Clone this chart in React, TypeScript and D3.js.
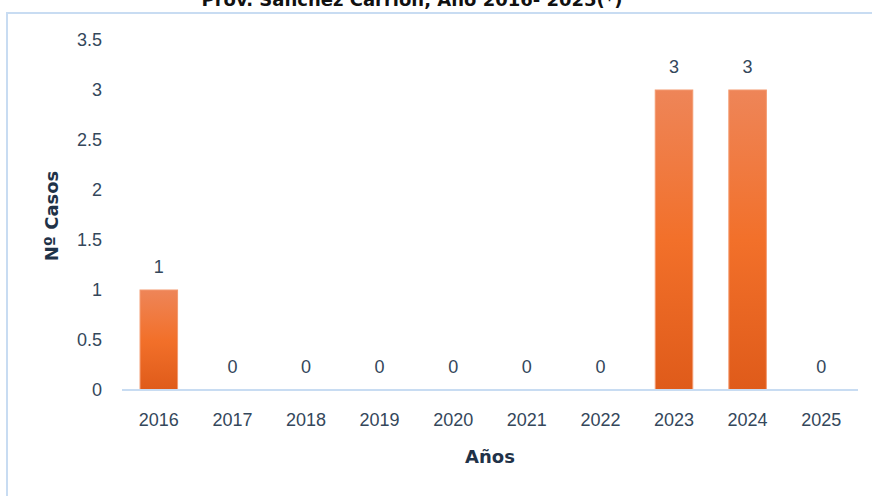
import React from "react";
import * as d3 from "d3";

const years = ["2016", "2017", "2018", "2019", "2020", "2021", "2022", "2023", "2024", "2025"];
const casos = [1, 0, 0, 0, 0, 0, 0, 3, 3, 0];
const yTicks = [0, 0.5, 1, 1.5, 2, 2.5, 3, 3.5];
const title = "Prov. Sánchez Carrión, Año 2016- 2025(*)";
const xTitle = "Años";
const yTitle = "Nº Casos";

export default function App() {
  const W = 872, H = 496;
  const left = 122, right = 858, top = 40, bottom = 390;
  const x = d3.scaleBand<string>().domain(years).range([left, right]).paddingInner(0.49).paddingOuter(0.245);
  const y = d3.scaleLinear().domain([0, 3.5]).range([bottom, top]);
  const txt = "#34475b";
  const fmt = (v: number) => String(v);
  return (
    <svg width={W} height={H} style={{ position: "absolute", left: 0, top: 0, background: "#fff" }}>
      <defs>
        <linearGradient id="barG" x1="0" y1="0" x2="0" y2="1">
          <stop offset="0" stopColor="#ee8558" />
          <stop offset="0.5" stopColor="#f2702a" />
          <stop offset="1" stopColor="#df5b1a" />
        </linearGradient>
      </defs>
      <rect x={7} y={13} width={900} height={520} fill="#fff" stroke="#c8dcf2" strokeWidth={2} />
      <text x={412} y={6} textAnchor="middle" fontFamily="DejaVu Sans" fontWeight="bold" fontSize={18} fill="#111">
        {title}
      </text>
      {yTicks.map((t) => (
        <text key={t} x={102} y={y(t)} dy="0.35em" textAnchor="end" fontFamily="Liberation Sans" fontSize={18} fill={txt}>
          {fmt(t)}
        </text>
      ))}
      {years.map((yr, i) => (
        <g key={yr}>
          {casos[i] > 0 && (
            <rect x={x(yr)} y={y(casos[i])} width={x.bandwidth()} height={y(0) - y(casos[i])} fill="url(#barG)" stroke="#f39a70" strokeWidth={1} />
          )}
          <text x={(x(yr) as number) + x.bandwidth() / 2} y={y(casos[i]) - 23} dy="0.35em" textAnchor="middle" fontFamily="Liberation Sans" fontSize={18} fill={txt}>
            {casos[i]}
          </text>
          <text x={(x(yr) as number) + x.bandwidth() / 2} y={420} dy="0.35em" textAnchor="middle" fontFamily="Liberation Sans" fontSize={18} fill={txt}>
            {yr}
          </text>
        </g>
      ))}
      <line x1={left} x2={right} y1={bottom} y2={bottom} stroke="#c8dcf2" strokeWidth={2} />
      <text x={490} y={457} dy="0.35em" textAnchor="middle" fontFamily="DejaVu Sans" fontWeight="bold" fontSize={18} fill="#1f3248">
        {xTitle}
      </text>
      <text transform={`translate(52,216) rotate(-90)`} dy="0.35em" textAnchor="middle" fontFamily="DejaVu Sans" fontWeight="bold" fontSize={18} fill="#1f3248">
        {yTitle}
      </text>
    </svg>
  );
}
